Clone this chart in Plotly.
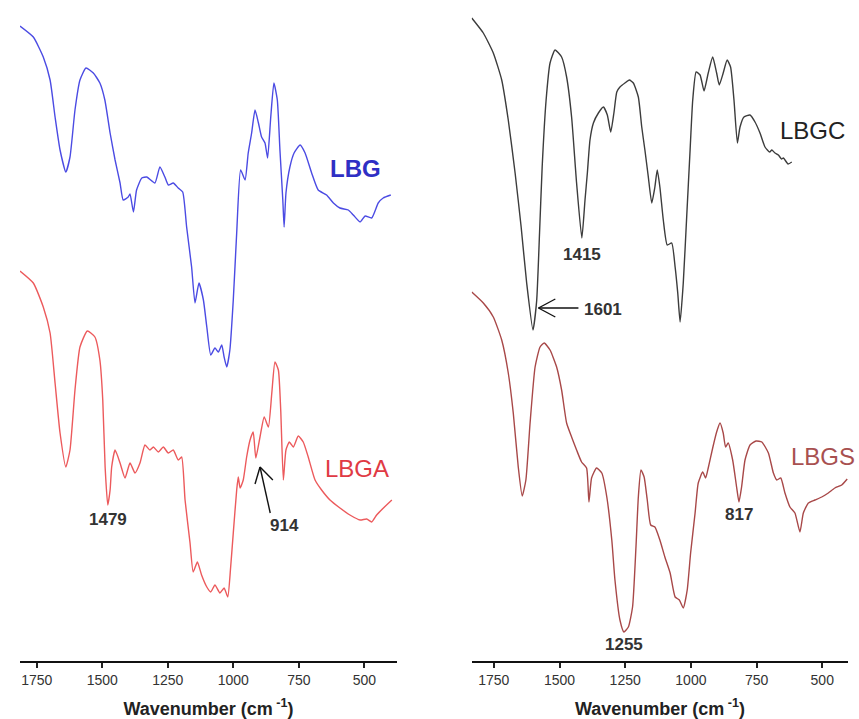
import plotly.graph_objects as go

# ---- FTIR spectra (wavenumber in cm-1, transmittance in arbitrary offset units) ----
lbg_wn = [1814, 1763, 1725, 1699, 1680, 1661, 1639, 1623, 1604, 1585, 1562, 1534, 1509, 1490,
          1470, 1451, 1432, 1420, 1401, 1394, 1381, 1369, 1349, 1330, 1299, 1280, 1261, 1248,
          1229, 1210, 1193, 1178, 1159, 1146, 1131, 1114, 1101, 1086, 1070, 1057, 1044, 1035,
          1025, 1013, 1000, 987, 972, 955, 943, 930, 917, 904, 892, 879, 869, 857, 845, 832,
          822, 811, 806, 799, 784, 768, 745, 726, 701, 676, 644, 618, 593, 561, 542, 516, 497,
          472, 447, 428, 399]
lbg_t = [635, 624, 604, 581, 544, 511, 489, 504, 551, 581, 593, 588, 578, 561,
         528, 501, 478, 461, 464, 467, 449, 471, 483, 484, 478, 494, 484, 476,
         478, 473, 469, 434, 394, 358, 378, 361, 334, 306, 313, 309, 316, 304,
         294, 311, 361, 428, 491, 481, 508, 528, 551, 538, 524, 518, 503, 544, 578, 561,
         511, 461, 434, 468, 494, 508, 516, 508, 488, 471, 466, 458, 453, 451, 446, 439, 445,
         443, 458, 463, 466]

lbga_wn = [1814, 1763, 1725, 1699, 1680, 1661, 1639, 1623, 1604, 1585, 1557, 1528, 1509, 1498,
           1489, 1479, 1470, 1464, 1451, 1432, 1413, 1394, 1375, 1356, 1337, 1318, 1305, 1286,
           1267, 1248, 1229, 1210, 1197, 1184, 1165, 1153, 1137, 1121, 1101, 1086, 1070, 1051,
           1035, 1021, 1010, 1000, 987, 981, 974, 962, 949, 936, 924, 914, 898, 882, 866, 853,
           841, 828, 819, 809, 799, 786, 771, 752, 733, 714, 688, 663, 631, 593, 555, 516, 491,
           472, 453, 427, 395]
lbga_t = [390, 378, 354, 328, 278, 228, 194, 211, 271, 314, 330, 324, 301, 261,
          194, 156, 171, 194, 211, 198, 183, 198, 188, 198, 216, 211, 214, 209,
          214, 208, 211, 201, 204, 161, 118, 89, 99, 86, 74, 69, 76, 68,
          73, 64, 94, 128, 171, 184, 173, 181, 204, 221, 229, 203, 224, 244, 234, 268,
          299, 291, 251, 181, 211, 219, 214, 225, 219, 204, 181, 171, 161, 153, 146, 141, 142,
          139, 146, 153, 161]

lbgc_wn = [1834, 1790, 1752, 1720, 1695, 1669, 1646, 1625, 1601, 1587, 1576, 1566, 1551, 1536,
           1517, 1492, 1473, 1454, 1435, 1415, 1403, 1394, 1384, 1371, 1352, 1333, 1318, 1305,
           1293, 1282, 1270, 1251, 1234, 1219, 1200, 1187, 1175, 1162, 1149, 1137, 1128, 1118,
           1105, 1090, 1073, 1060, 1050, 1041, 1029, 1016, 1003, 993, 980, 965, 950, 934, 917,
           902, 892, 877, 862, 849, 836, 823, 813, 798, 775, 756, 737, 718, 700, 692, 680, 667,
           655, 648, 630, 616]
lbgc_t = [643, 628, 608, 581, 541, 488, 434, 378, 331, 360, 428, 494, 561, 598,
          611, 604, 584, 544, 478, 423, 461, 488, 521, 538, 548, 554, 546, 529,
          548, 569, 574, 578, 581, 578, 564, 534, 511, 484, 458, 474, 491, 474,
          441, 416, 418, 394, 368, 339, 378, 444, 511, 561, 589, 586, 570, 588, 604,
          588, 576, 588, 601, 594, 561, 518, 534, 544, 546, 539, 528, 514, 509, 511, 508, 506,
          502, 503, 497, 499]

lbgs_wn = [1834, 1790, 1752, 1720, 1695, 1676, 1657, 1642, 1628, 1612, 1593, 1574, 1558, 1536,
           1511, 1492, 1473, 1454, 1435, 1416, 1397, 1388, 1378, 1359, 1339, 1320, 1301, 1289,
           1270, 1255, 1238, 1222, 1209, 1200, 1190, 1178, 1166, 1153, 1137, 1118, 1099, 1079,
           1060, 1044, 1029, 1014, 1001, 984, 972, 955, 944, 934, 917, 902, 889, 877, 868, 858,
           841, 826, 817, 807, 794, 775, 752, 730, 705, 686, 673, 658, 642, 623, 604, 585, 572,
           553, 528, 502, 477, 452, 426, 405]
lbgs_t = [369, 358, 344, 321, 288, 248, 194, 165, 181, 238, 294, 314, 318, 311,
          294, 271, 238, 224, 211, 199, 193, 159, 183, 193, 188, 164, 121, 81,
          41, 29, 34, 54, 114, 164, 191, 184, 161, 136, 134, 121, 104, 88,
          64, 61, 53, 71, 108, 148, 178, 189, 183, 193, 213, 229, 238, 228, 214, 218,
          201, 174, 159, 174, 201, 216, 220, 219, 208, 188, 181, 183, 168, 154, 148, 129, 148,
          158, 161, 164, 168, 173, 176, 182]

tick_vals = [1750, 1500, 1250, 1000, 750, 500]
tick_text = ["1750", "1500", "1250", "1000", "750", "500"]

FONT = "Arial, Liberation Sans, sans-serif"

fig = go.Figure()

def spectrum(wn, t, color, xa, ya, name):
    fig.add_trace(go.Scatter(
        x=wn, y=t, mode="lines", name=name, xaxis=xa, yaxis=ya,
        line=dict(color=color, width=1.4, shape="spline", smoothing=0.5),
        hoverinfo="x+name", showlegend=False))

spectrum(lbg_wn, lbg_t, "#4b4be3", "x", "y", "LBG")
spectrum(lbga_wn, lbga_t, "#ec5a5c", "x", "y", "LBGA")
spectrum(lbgc_wn, lbgc_t, "#3c3c3c", "x2", "y2", "LBGC")
spectrum(lbgs_wn, lbgs_t, "#a84848", "x2", "y2", "LBGS")

xaxis_common = dict(
    tickmode="array", tickvals=tick_vals, ticktext=tick_text,
    showline=True, linecolor="#111", linewidth=2.2, mirror=False,
    ticks="outside", ticklen=5, tickwidth=1.6, tickcolor="#222",
    showgrid=False, zeroline=False,
    tickfont=dict(family=FONT, size=14, color="#333"),
    title=dict(text="<b>Wavenumber (cm<sup> -1</sup>)</b>",
               font=dict(family=FONT, size=18, color="#222"), standoff=15),
)
yaxis_common = dict(range=[0, 661], visible=False, showgrid=False, zeroline=False)

fig.update_layout(
    width=859, height=719,
    margin=dict(l=0, r=0, t=0, b=58),
    paper_bgcolor="white", plot_bgcolor="white",
    xaxis=dict(domain=[20 / 859, 397 / 859], range=[1813.8, 375.3], anchor="y", **xaxis_common),
    yaxis=dict(domain=[0, 1], anchor="x", **yaxis_common),
    xaxis2=dict(domain=[471.7 / 859, 848.3 / 859], range=[1834.2, 400.9], anchor="y2", **xaxis_common),
    yaxis2=dict(domain=[0, 1], anchor="x2", **yaxis_common),
)

def label(text, x, y, xref, yref, color, size=24, bold=False):
    fig.add_annotation(
        text=f"<b>{text}</b>" if bold else text, x=x, y=y, xref=xref, yref=yref,
        showarrow=False, font=dict(family=FONT, size=size, color=color))

# series names
label("LBG", 532, 493, "x", "y", "#2f2fc4", bold=True)
label("LBGA", 528, 193, "x", "y", "#e03a44")
label("LBGC", 539, 531, "x2", "y2", "#222222")
label("LBGS", 499, 205, "x2", "y2", "#a85050")

# band assignments
label("1479", 1479, 142, "x", "y", "#333", size=17, bold=True)
label("914", 806, 136, "x", "y", "#333", size=17, bold=True)
label("1415", 1415, 407, "x2", "y2", "#333", size=17, bold=True)
label("1255", 1255, 17, "x2", "y2", "#333", size=17, bold=True)
label("817", 817, 147, "x2", "y2", "#333", size=17, bold=True)
label("1601", 1334, 352, "x2", "y2", "#333", size=17, bold=True)

# open line arrows pointing at the 914 and 1601 bands
def arrow(tip, tail, arms, xref, yref):
    pen = dict(color="#111", width=1.4)
    fig.add_shape(type="line", xref=xref, yref=yref,
                  x0=tail[0], y0=tail[1], x1=tip[0], y1=tip[1], line=pen)
    for ax, ay in arms:
        fig.add_shape(type="line", xref=xref, yref=yref,
                      x0=tip[0], y0=tip[1], x1=ax, y1=ay, line=pen)

arrow((898, 194), (859, 148), [(917, 177), (849, 181)], "x", "y")
arrow((1580, 353), (1428, 353), [(1516, 362), (1516, 344)], "x2", "y2")

fig.write_html("out.html")
